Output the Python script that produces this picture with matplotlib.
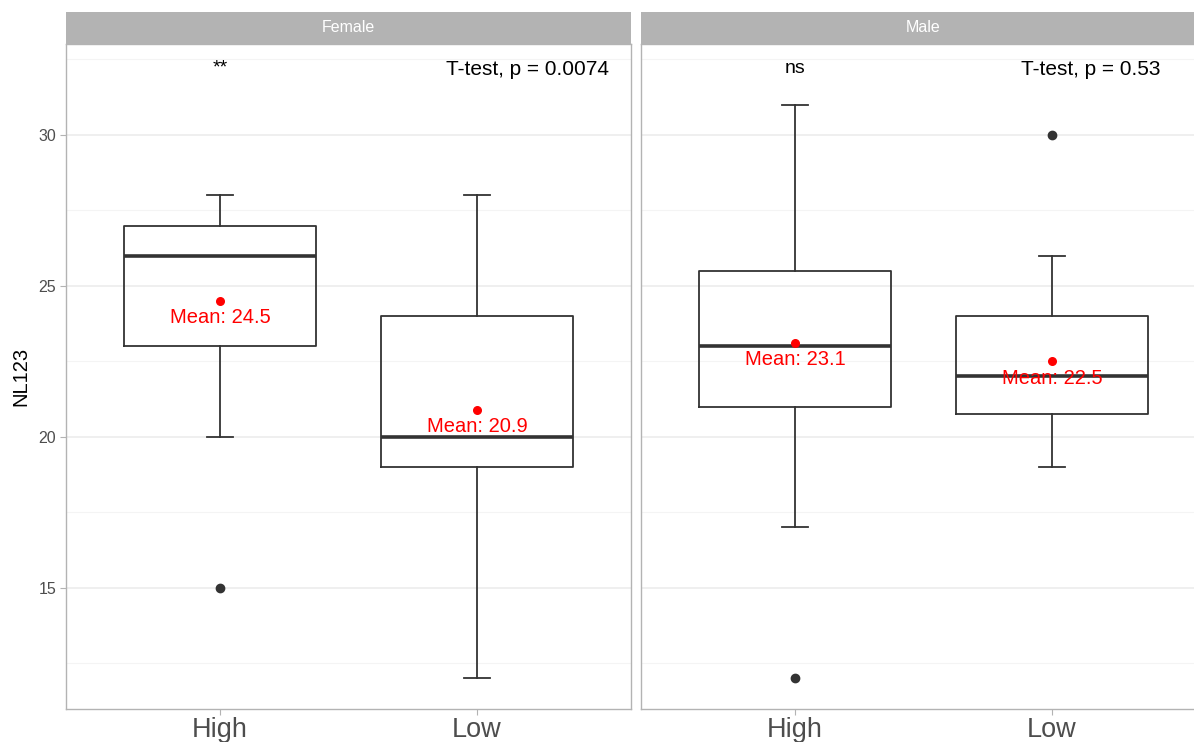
import matplotlib.pyplot as plt

plt.rcParams['font.family'] = ['Liberation Sans', 'DejaVu Sans']

groups = ['High', 'Low']
panels = ['Female', 'Male']

# box statistics
female_med = [26, 20]
female_q1 = [23, 19]
female_q3 = [27, 24]
female_lo = [20, 12]
female_hi = [28, 28]
female_out = [[15], []]
female_mean = [24.5, 20.9]

male_med = [23, 22]
male_q1 = [21, 20.75]
male_q3 = [25.5, 24]
male_lo = [17, 19]
male_hi = [31, 26]
male_out = [[12], [30]]
male_mean = [23.1, 22.5]

signif = ['**', 'ns']
pvals = ['0.0074', '0.53']

data = {
    'Female': (female_med, female_q1, female_q3, female_lo, female_hi, female_out, female_mean),
    'Male': (male_med, male_q1, male_q3, male_lo, male_hi, male_out, male_mean),
}

W, H = 1194, 742
fig = plt.figure(figsize=(W / 100, H / 100), dpi=100)

lefts = [66, 641]
pw = 565
top, bot = 44, 709

for i, panel in enumerate(panels):
    med, q1, q3, lo, hi, out, mean = data[panel]
    ax = fig.add_axes([lefts[i] / W, 1 - bot / H, pw / W, (bot - top) / H])
    stats = []
    for j in range(len(groups)):
        stats.append(dict(med=med[j], q1=q1[j], q3=q3[j], whislo=lo[j],
                          whishi=hi[j], fliers=out[j], label=groups[j]))
    ax.bxp(stats, positions=[1, 2], widths=0.75, capwidths=0.1,
           boxprops=dict(color='#333333', linewidth=1.3),
           whiskerprops=dict(color='#333333', linewidth=1.3),
           capprops=dict(color='#333333', linewidth=1.3),
           medianprops=dict(color='#333333', linewidth=2.6),
           flierprops=dict(marker='o', markerfacecolor='#333333',
                           markeredgecolor='#333333', markersize=6),
           zorder=3)
    ax.scatter([1, 2], mean, color='red', s=30, zorder=4)
    for j in range(len(groups)):
        ax.annotate('Mean: %.1f' % mean[j], (j + 1, mean[j]), xytext=(0, -12),
                    textcoords='offset points', ha='center', va='center',
                    color='red', fontsize=14.5, zorder=5)
    ax.text(1, 32.2, signif[i], ha='center', va='center', fontsize=14, color='black')
    ax.text(1.88, 32.15, 'T-test, p = ' + pvals[i], ha='left', va='center',
            fontsize=15, color='black')

    ax.set_xlim(0.4, 2.6)
    ax.set_ylim(10.99, 33.01)
    ax.set_xticks([1, 2])
    ax.set_xticklabels(groups)
    ax.set_yticks([15, 20, 25, 30])
    ax.set_yticks([12.5, 17.5, 22.5, 27.5, 32.5], minor=True)
    ax.grid(axis='y', which='major', color='#EBEBEB', linewidth=1.1, zorder=0)
    ax.grid(axis='y', which='minor', color='#F4F4F4', linewidth=0.8, zorder=0)
    ax.set_axisbelow(True)
    ax.tick_params(axis='x', labelsize=19.5, labelcolor='#4D4D4D', color='#B3B3B3',
                   length=4, pad=2)
    ax.tick_params(axis='y', labelsize=11.5, labelcolor='#4D4D4D', color='#B3B3B3',
                   length=4, pad=3)
    ax.tick_params(axis='y', which='minor', length=0)
    for s in ax.spines.values():
        s.set_color('#B3B3B3')
        s.set_linewidth(1.0)
    if i == 0:
        ax.set_ylabel('NL123', fontsize=14.5, labelpad=6)
    else:
        ax.set_yticklabels([])
        ax.tick_params(axis='y', length=0)

    sx = fig.add_axes([lefts[i] / W, 1 - top / H, pw / W, 32 / H])
    sx.set_facecolor('#B3B3B3')
    sx.set_xticks([])
    sx.set_yticks([])
    for s in sx.spines.values():
        s.set_visible(False)
    sx.text(0.5, 0.5, panel, ha='center', va='center', color='white',
            fontsize=11.5, transform=sx.transAxes)

fig.savefig('out.png', dpi=100)
